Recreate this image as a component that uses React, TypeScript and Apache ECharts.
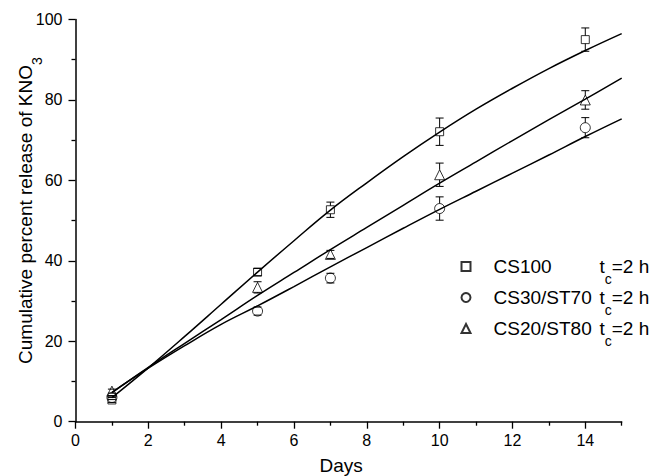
import React, { useEffect, useRef } from 'react';
import * as echarts from 'echarts';

// measured points (days)
const days = [1, 5, 7, 10, 14];
const cs100 = [5.4, 37.2, 52.7, 72.1, 95.0];
const cs100Err = [0.6, 0.9, 1.9, 3.4, 2.9];
const cs30 = [6.0, 27.5, 35.7, 53.0, 73.1];
const cs30Err = [0.5, 1.0, 1.2, 2.9, 2.5];
const cs20 = [7.6, 33.4, 41.6, 61.4, 80.0];
const cs20Err = [0.5, 1.4, 1.0, 2.9, 2.3];

// fitted curves
const curveDays = [1, 2, 3, 4, 5, 6, 7, 8, 9, 10, 11, 12, 13, 14, 15];
const cs100Fit = [6.0, 13.4, 21.2, 29.2, 37.2, 45.0, 52.6, 59.4, 65.9, 72.0, 77.7, 82.9, 87.8, 92.3, 96.5];
const cs30Fit = [7.3, 13.3, 18.9, 24.2, 28.8, 33.6, 38.5, 43.3, 48.1, 52.8, 57.3, 61.8, 66.3, 70.9, 75.3];
const cs20Fit = [7.2, 13.5, 19.5, 25.4, 31.4, 37.1, 42.8, 48.3, 53.8, 59.3, 64.6, 69.9, 75.1, 80.2, 85.4];

const xMajorTicks = [0, 2, 4, 6, 8, 10, 12, 14];
const xMinorTicks = [1, 3, 5, 7, 9, 11, 13, 15];

const names = ['CS100', 'CS30/ST70', 'CS20/ST80'];
const FONT = 'Liberation Sans, Arial, sans-serif';

function pairs(xs: number[], ys: number[]) {
  return xs.map((x, i) => [x, ys[i]]);
}
function triples(xs: number[], ys: number[], es: number[]) {
  return xs.map((x, i) => [x, ys[i], es[i]]);
}

function errSeries(data: number[][], half: number) {
  return {
    type: 'custom',
    silent: true,
    z: 3,
    encode: { x: 0, y: 1 },
    data,
    renderItem: (params: any, api: any) => {
      const x = api.value(0);
      const y = api.value(1);
      const e = api.value(2);
      const c = api.coord([x, y]);
      const t = api.coord([x, y + e]);
      const b = api.coord([x, y - e]);
      const cw = 4;
      const style = { stroke: '#000', lineWidth: 1 };
      const children: any[] = [
        { type: 'line', shape: { x1: c[0] - cw, y1: t[1], x2: c[0] + cw, y2: t[1] }, style },
        { type: 'line', shape: { x1: c[0] - cw, y1: b[1], x2: c[0] + cw, y2: b[1] }, style },
      ];
      if (c[1] - half > t[1]) {
        children.push({ type: 'line', shape: { x1: c[0], y1: t[1], x2: c[0], y2: c[1] - half }, style });
      }
      if (b[1] > c[1] + half) {
        children.push({ type: 'line', shape: { x1: c[0], y1: c[1] + half, x2: c[0], y2: b[1] }, style });
      }
      return { type: 'group', children };
    },
  };
}

function scatter(name: string, data: number[][], symbol: string, size: any) {
  return {
    type: 'scatter',
    name,
    data,
    symbol,
    symbolSize: size,
    z: 4,
    itemStyle: { color: 'rgba(0,0,0,0)', borderColor: '#000', borderWidth: 1 },
  };
}

function curve(name: string, data: number[][]) {
  return {
    type: 'line',
    name,
    data,
    smooth: 0.4,
    showSymbol: false,
    symbol: 'none',
    z: 2,
    lineStyle: { color: '#000', width: 1.5 },
  };
}

export default function App() {
  const ref = useRef<HTMLDivElement>(null);
  useEffect(() => {
    document.body.style.margin = '0';
    const chart = echarts.init(ref.current!, null, { renderer: 'svg' });
    const axisLine = { show: true, lineStyle: { color: '#000', width: 1.5 } };
    chart.setOption({
      animation: false,
      backgroundColor: '#fff',
      textStyle: { fontFamily: FONT, color: '#000' },
      grid: { left: 75.5, right: 33.3, top: 19.5, bottom: 54.3, containLabel: false, outerBoundsMode: 'none' },
      legend: {
        data: names,
        orient: 'vertical',
        left: 455.5,
        top: 242,
        itemWidth: 9,
        itemHeight: 9,
        itemGap: -8,
        selectedMode: false,
        formatter: (name: string) => `{a|${name}}{t|t}{s|c}{e|=2 h}`,
        textStyle: {
          fontFamily: FONT,
          color: '#000',
          rich: {
            a: { fontFamily: FONT, fontSize: 19, lineHeight: 22, width: 106, padding: [0, 0, 0, 18], color: '#000' },
            t: { fontFamily: FONT, fontSize: 19, lineHeight: 22, color: '#000' },
            s: { fontFamily: FONT, fontSize: 14, lineHeight: 14, padding: [25, 0, 0, 0], color: '#000' },
            e: { fontFamily: FONT, fontSize: 19, lineHeight: 22, color: '#000' },
          },
        },
      },
      xAxis: [
        {
          type: 'value',
          min: 0,
          max: 15,
          position: 'bottom',
          name: 'Days',
          nameLocation: 'middle',
          nameGap: 34,
          nameMoveOverlap: false,
          nameTextStyle: { fontFamily: FONT, fontSize: 19, lineHeight: 20, color: '#000', padding: [0, 15, 0, 0] },
          axisLine,
          axisTick: { show: true, inside: false, length: 7, customValues: xMajorTicks, lineStyle: { color: '#000', width: 1.3 } },
          axisLabel: { customValues: xMajorTicks, fontSize: 16, lineHeight: 16, margin: 11, color: '#000', fontFamily: FONT },
          splitLine: { show: false },
        },
        {
          type: 'value',
          min: 0,
          max: 15,
          position: 'bottom',
          axisLine: { show: false },
          axisTick: { show: true, inside: false, length: 4, customValues: xMinorTicks, lineStyle: { color: '#000', width: 1.3 } },
          axisLabel: { show: false },
          splitLine: { show: false },
        },
      ],
      yAxis: {
        type: 'value',
        min: 0,
        max: 100,
        interval: 20,
        name: '{a|Cumulative percent release of KNO}{s|3}',
        nameLocation: 'middle',
        nameGap: 39.5,
        nameMoveOverlap: false,
        nameTextStyle: {
          rich: {
            a: { fontFamily: FONT, fontSize: 19, lineHeight: 22, color: '#000', padding: [0, 0, 0, 20] },
            s: { fontFamily: FONT, fontSize: 14, lineHeight: 14, color: '#000', padding: [24, 0, 0, 0] },
          },
        },
        axisLine,
        axisTick: { show: true, inside: false, length: 7, lineStyle: { color: '#000', width: 1.3 } },
        minorTick: { show: true, splitNumber: 2, length: 4, lineStyle: { color: '#000', width: 1.3 } },
        axisLabel: { fontSize: 16, margin: 13, color: '#000', fontFamily: FONT },
        splitLine: { show: false },
      },
      series: [
        curve('fit100', pairs(curveDays, cs100Fit)),
        curve('fit30', pairs(curveDays, cs30Fit)),
        curve('fit20', pairs(curveDays, cs20Fit)),
        errSeries(triples(days, cs100, cs100Err), 4),
        errSeries(triples(days, cs30, cs30Err), 5),
        errSeries(triples(days, cs20, cs20Err), 5),
        scatter(names[0], pairs(days, cs100), 'rect', 8),
        scatter(names[1], pairs(days, cs30), 'circle', 10),
        scatter(names[2], pairs(days, cs20), 'triangle', [10, 10]),
      ],
    });
    return () => chart.dispose();
  }, []);
  return <div ref={ref} style={{ width: 655, height: 476 }} />;
}
